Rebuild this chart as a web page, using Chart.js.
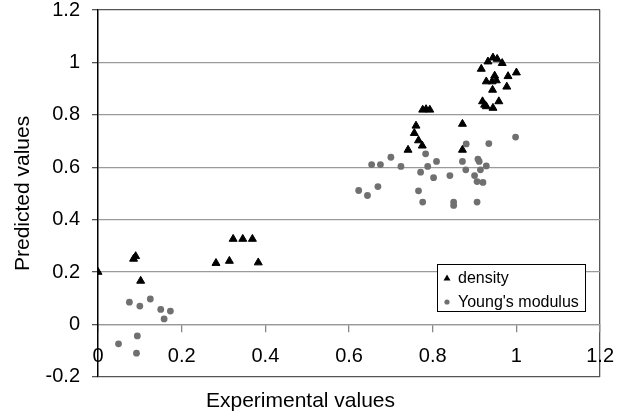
<!DOCTYPE html>
<html>
<head>
<meta charset="utf-8">
<script src="https://cdn.jsdelivr.net/npm/chart.js@4.4.1/dist/chart.umd.min.js"></script>
<style>
    html, body { margin: 0; padding: 0; background: #fff; }
    #wrap { width: 627px; height: 420px; }
</style>
</head>
<body>
<div id="wrap"><canvas id="scatterChart" width="627" height="420"></canvas></div>
<script>
// Axis ticks
const xTicks = [0, 0.2, 0.4, 0.6, 0.8, 1, 1.2]
const yTicks = [-0.2, 0, 0.2, 0.4, 0.6, 0.8, 1, 1.2]

// density (triangles)
const densityX = [0, 0.085, 0.09, 0.102,
    0.282, 0.314, 0.323, 0.346, 0.369, 0.383,
    0.741, 0.756, 0.760, 0.766, 0.775, 0.776, 0.784, 0.793, 0.871, 0.871,
    0.916, 0.932, 0.944, 0.954, 0.966, 1.0, 0.980, 0.948, 0.928, 0.942,
    0.952, 0.977, 0.943, 0.919, 0.924, 0.928, 0.944, 0.958]
const densityY = [0.20, 0.25, 0.26, 0.166,
    0.234, 0.242, 0.326, 0.326, 0.326, 0.236,
    0.666, 0.730, 0.758, 0.702, 0.682, 0.819, 0.821, 0.819, 0.666, 0.765,
    0.975, 1.003, 1.018, 1.013, 0.997, 0.961, 0.947, 0.949, 0.927, 0.927,
    0.931, 0.907, 0.895, 0.851, 0.838, 0.832, 0.826, 0.851]

// Young's modulus (circles)
const youngX = [0.075, 0.100, 0.125, 0.150, 0.173, 0.158, 0.094, 0.049, 0.092,
    0.623, 0.644, 0.669, 0.654, 0.675, 0.700, 0.724, 0.766, 0.776, 0.771,
    0.783, 0.788, 0.802, 0.809, 0.841, 0.850, 0.850, 0.871, 0.879, 0.880,
    0.900, 0.906, 0.906, 0.908, 0.911, 0.914, 0.920, 0.928, 0.934, 0.998]
const youngY = [0.085, 0.070, 0.097, 0.057, 0.051, 0.021, -0.044, -0.074, -0.110,
    0.511, 0.492, 0.526, 0.610, 0.610, 0.638, 0.603, 0.510, 0.467, 0.581,
    0.651, 0.603, 0.560, 0.622, 0.568, 0.467, 0.454, 0.622, 0.590, 0.689,
    0.568, 0.545, 0.467, 0.631, 0.622, 0.590, 0.542, 0.605, 0.690, 0.715]

const FONT = '"Liberation Sans", Arial, sans-serif'

function toPoints(xs, ys) {
    return xs.map((x, i) => ({ x: x, y: ys[i] }))
}

function fmt(v) {
    return String(+Number(v).toFixed(1))
}

// legend box drawn inside the plot, like the Excel original
const legendBox = {
    id: "legendBox",
    afterDraw(chart) {
        const ctx = chart.ctx
        ctx.save()
        ctx.fillStyle = "#fff"
        ctx.strokeStyle = "#000"
        ctx.lineWidth = 1
        ctx.fillRect(437.5, 264.5, 148, 47)
        ctx.strokeRect(437.5, 264.5, 148, 47)

        chart.data.datasets.forEach((ds, i) => {
            const y = 278 + i * 24
            ctx.fillStyle = ds.backgroundColor
            ctx.beginPath()
            if (ds.pointStyle === "triangle") {
                ctx.moveTo(447, y - 3.5)
                ctx.lineTo(450.5, y + 2.5)
                ctx.lineTo(443.5, y + 2.5)
                ctx.closePath()
            } else {
                ctx.arc(447, y, 2.6, 0, Math.PI * 2)
            }
            ctx.fill()
            ctx.fillStyle = "#000"
            ctx.font = "16px " + FONT
            ctx.textBaseline = "middle"
            ctx.fillText(ds.label, 458, y + 1)
        })
        ctx.restore()
    }
}

document.addEventListener("DOMContentLoaded", () => {
    drawChart()
})

function drawChart() {
    const ctx = document.getElementById("scatterChart").getContext("2d")

    new Chart(ctx, {
        type: "scatter",
        data: {
            datasets: [
                {
                    label: "density",
                    data: toPoints(densityX, densityY),
                    pointStyle: "triangle",
                    pointRadius: 4.6,
                    backgroundColor: "#000",
                    borderColor: "#000",
                    borderWidth: 1
                },
                {
                    label: "Young's modulus",
                    data: toPoints(youngX, youngY),
                    pointStyle: "circle",
                    pointRadius: 3.4,
                    backgroundColor: "#707070",
                    borderColor: "#707070",
                    borderWidth: 0
                }
            ]
        },
        options: {
            responsive: false,
            animation: false,
            layout: {
                padding: { left: 0, right: 26, top: 10, bottom: 0 }
            },
            plugins: {
                legend: { display: false },
                tooltip: { enabled: false },
                title: {
                    display: true,
                    position: "bottom",
                    text: "Experimental values",
                    color: "#000",
                    font: { family: FONT, size: 21, weight: "normal" },
                    padding: { top: 12, bottom: 6 }
                }
            },
            scales: {
                x: {
                    type: "linear",
                    min: 0,
                    max: 1.2,
                    position: { y: 0 },
                    afterBuildTicks: (scale) => {
                        scale.ticks = xTicks.map(v => ({ value: v }))
                    },
                    grid: {
                        drawOnChartArea: true,
                        color: (c) => (c.tick && Math.abs(c.tick.value - 1.2) < 1e-6) ? "#555" : "rgba(0,0,0,0)",
                        tickColor: "#888",
                        tickLength: 7,
                        lineWidth: 1.3
                    },
                    border: { display: true, color: "#999", width: 1.3 },
                    ticks: {
                        autoSkip: false,
                        maxRotation: 0,
                        padding: 13,
                        color: "#000",
                        font: { family: FONT, size: 20 },
                        callback: (v) => fmt(v)
                    }
                },
                y: {
                    type: "linear",
                    min: -0.2,
                    max: 1.2,
                    afterBuildTicks: (scale) => {
                        scale.ticks = yTicks.map(v => ({ value: v }))
                    },
                    afterFit: (scale) => {
                        scale.width = 98
                        scale.paddingTop = 0
                        scale.paddingBottom = 0
                    },
                    grid: {
                        color: (c) => {
                            const v = c.tick ? c.tick.value : 0
                            return (Math.abs(v - 1.2) < 1e-6 || Math.abs(v + 0.2) < 1e-6) ? "#555" : "#9a9a9a"
                        },
                        tickColor: "#555",
                        tickLength: 6,
                        lineWidth: 1.3
                    },
                    border: { display: true, color: "#000", width: 1.5 },
                    ticks: {
                        padding: 12,
                        color: "#000",
                        font: { family: FONT, size: 20 },
                        callback: (v) => fmt(v)
                    },
                    title: {
                        display: true,
                        text: "Predicted values",
                        color: "#000",
                        font: { family: FONT, size: 21 },
                        padding: { top: 11, bottom: 0 }
                    }
                }
            }
        },
        plugins: [legendBox]
    })
}
</script>
</body>
</html>
